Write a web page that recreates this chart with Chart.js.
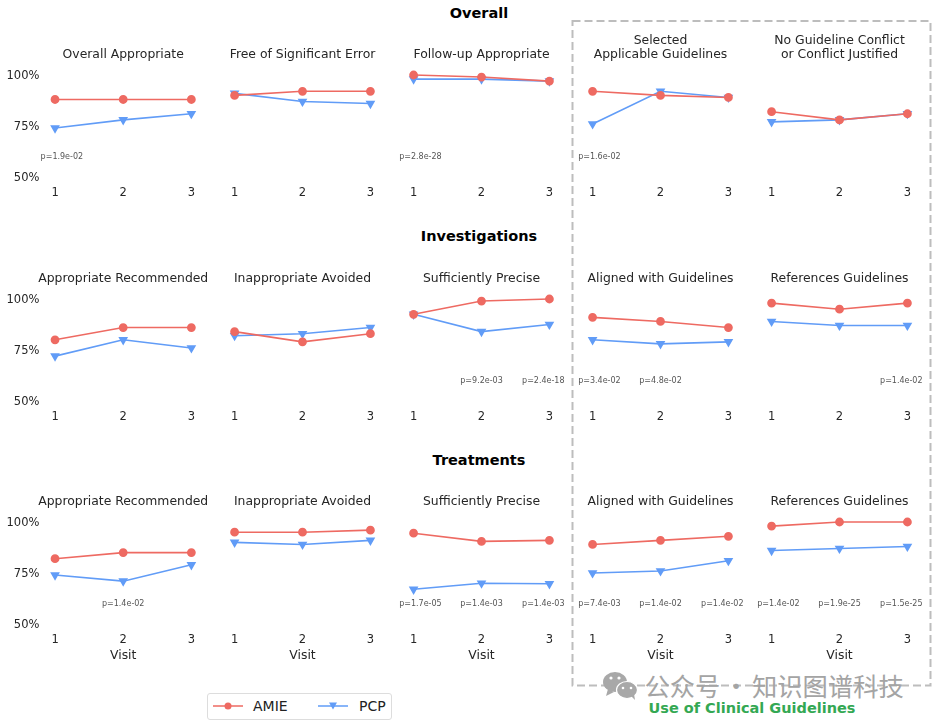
<!DOCTYPE html>
<html>
<head>
<meta charset="utf-8">
<script src="https://cdn.jsdelivr.net/npm/chart.js@4"></script>
<style>
  html, body { margin: 0; padding: 0; background: #fff; }
  body { width: 932px; height: 723px; position: relative; overflow: hidden; font-family: "DejaVu Sans", sans-serif; }
  canvas { position: absolute; }
  .section { position: absolute; left: 279px; width: 400px; text-align: center; font-weight: bold; font-size: 14.5px; color: #000; line-height: 18px; }
  #box { position: absolute; left: 0; top: 0; }
  #legend { position: absolute; left: 207px; top: 693px; width: 183px; height: 25px; border: 1px solid #ddd; border-radius: 3px; background: #fff; font-size: 14px; color: #222; }
  #legend svg { position: absolute; top: 5px; }
  #legend span { position: absolute; top: 3px; line-height: 18px; }
  #green { position: absolute; left: 602px; width: 300px; top: 699px; text-align: center; font-weight: bold; font-size: 14.5px; line-height: 18px; color: #34a853; }
  #mark { position: absolute; left: 644.5px; top: 669px; font-family: "Noto Sans CJK SC"; font-size: 25.3px; word-spacing: -2.5px; line-height: 32px; color: #a4a4a4; white-space: pre; }
</style>
</head>
<body>
<svg id="box" width="932" height="723">
  <rect x="572.5" y="21" width="358" height="664.5" fill="none" stroke="#bdbdbd" stroke-width="2" stroke-dasharray="8 4"/>
  <g fill="#a8a8a8">
    <ellipse cx="615" cy="682" rx="12" ry="10"/>
    <path d="M608 689 l-2 7 l8 -4 z"/>
  </g>
  <g fill="#a8a8a8" stroke="#fff" stroke-width="1.2">
    <ellipse cx="627" cy="690" rx="10.5" ry="8.5"/>
  </g>
  <path d="M631 696 l4 4 l-1 -6 z" fill="#a8a8a8"/>
  <g fill="#fff">
    <circle cx="611" cy="678" r="1.6"/><circle cx="619" cy="678" r="1.6"/>
    <circle cx="623" cy="688" r="1.3"/><circle cx="631" cy="688" r="1.3"/>
  </g>
</svg>
<div class="section" style="top:4px">Overall</div>
<div class="section" style="top:227px">Investigations</div>
<div class="section" style="top:451px">Treatments</div>
<div id="mark">公众号 · 知识图谱科技</div>
<div id="green">Use of Clinical Guidelines</div>
<div id="legend">
  <svg width="32" height="14" style="left:4px"><line x1="1" y1="7" x2="31" y2="7" stroke="#ee6a62" stroke-width="1.5"/><circle cx="16" cy="7" r="3.5" fill="#ee6a62"/></svg>
  <span style="left:45px">AMIE</span>
  <svg width="32" height="14" style="left:109px"><line x1="1" y1="7" x2="31" y2="7" stroke="#619cf7" stroke-width="1.5"/><path d="M12 3.5 h8 l-4 7 z" fill="#619cf7"/></svg>
  <span style="left:151px">PCP</span>
</div>
<script>
const visits = [1, 2, 3];
const yTicks = [50, 75, 100];

const titles = [
  ['Overall Appropriate'], ['Free of Significant Error'], ['Follow-up Appropriate'],
  ['Selected', 'Applicable Guidelines'], ['No Guideline Conflict', 'or Conflict Justified'],
  ['Appropriate Recommended'], ['Inappropriate Avoided'], ['Sufficiently Precise'],
  ['Aligned with Guidelines'], ['References Guidelines'],
  ['Appropriate Recommended'], ['Inappropriate Avoided'], ['Sufficiently Precise'],
  ['Aligned with Guidelines'], ['References Guidelines']
];

const amie = [
  [88, 88, 88], [90, 92, 92], [100, 99, 97], [92, 90, 89], [82, 78, 81],
  [80, 86, 86], [84, 79, 83], [92.5, 99, 100], [91, 89, 86], [98, 95, 98],
  [82, 85, 85], [95, 95, 96], [94.5, 90.5, 91], [89, 91, 93], [98, 100, 100]
];

const pcp = [
  [74, 78, 81], [91, 87, 86], [98, 98, 97], [76, 92, 89], [77, 78, 81],
  [72, 80, 76], [82, 83, 86], [92.5, 84, 87.5], [80, 78, 79], [89, 87, 87],
  [74, 71, 79], [90, 89, 91], [67, 70, 69.7], [75, 76, 81], [86, 87, 88]
];

// p-value per visit, null where nothing is printed
const pvals = [
  ['1.9e-02', null, null], [null, null, null], ['2.8e-28', null, null], ['1.6e-02', null, null], [null, null, null],
  [null, null, null], [null, null, null], [null, '9.2e-03', '2.4e-18'], ['3.4e-02', '4.8e-02', null], [null, null, '1.4e-02'],
  [null, '1.4e-02', null], [null, null, null], ['1.7e-05', '1.4e-03', '1.4e-03'], ['7.4e-03', '1.4e-02', '1.4e-02'], ['1.4e-02', '1.9e-25', '1.5e-25']
];

const red = '#ee6a62';
const blue = '#619cf7';
const ink = '#262626';
const font = '"DejaVu Sans", sans-serif';

const colLeft = [41.4, 220.6, 399.6, 578.6, 758.2];
const rowTop = [75, 298.7, 522.4];
const plotW = 163.2, plotH = 102, topH = 55, sidePad = 12;

// panel title above the plot, small p= labels at y=60 in data units
const panelText = {
  id: 'panelText',
  afterDatasetsDraw(chart, args, opts) {
    const { ctx, scales, chartArea } = chart;
    ctx.save();
    ctx.textAlign = 'center';
    ctx.textBaseline = 'middle';
    ctx.fillStyle = ink;
    ctx.font = '12.4px ' + font;
    const mid = (chartArea.left + chartArea.right) / 2;
    opts.title.forEach((line, k) => {
      ctx.fillText(line, mid, chartArea.top - 20.2 - (opts.title.length - 1 - k) * 14);
    });
    ctx.font = '8px ' + font;
    ctx.fillStyle = '#555';
    opts.values.forEach((p, i) => {
      if (!p) return;
      const nudge = [0.1, 0, -0.09][i];
      ctx.fillText('p=' + p, scales.x.getPixelForValue(visits[i] + nudge), scales.y.getPixelForValue(60));
    });
    ctx.restore();
  }
};

titles.forEach((title, i) => {
  const col = i % 5, row = Math.floor(i / 5);
  const yW = col === 0 ? colLeft[0] : 0;
  const left = col === 0 ? 0 : sidePad;
  const xH = row === 2 ? 39 : 24;
  const canvas = document.createElement('canvas');
  canvas.width = Math.round(plotW + yW + left + sidePad);
  canvas.height = topH + plotH + xH;
  canvas.style.left = (colLeft[col] - yW - left) + 'px';
  canvas.style.top = (rowTop[row] - topH) + 'px';
  document.body.appendChild(canvas);

  new Chart(canvas, {
    type: 'line',
    plugins: [panelText],
    data: {
      datasets: [
        { label: 'AMIE', data: visits.map((v, k) => ({ x: v, y: amie[i][k] })), borderColor: red, backgroundColor: red,
          borderWidth: 1.6, pointRadius: 3.6, pointStyle: 'circle', clip: false },
        { label: 'PCP', data: visits.map((v, k) => ({ x: v, y: pcp[i][k] })), borderColor: blue, backgroundColor: blue,
          borderWidth: 1.6, pointRadius: 4, pointStyle: 'triangle', pointRotation: 180, clip: false }
      ]
    },
    options: {
      responsive: false,
      animation: false,
      layout: { padding: { top: topH, left: left, right: sidePad, bottom: 0 } },
      plugins: {
        legend: { display: false },
        tooltip: { enabled: false },
        panelText: { title: title, values: pvals[i] }
      },
      scales: {
        x: {
          type: 'linear',
          min: 0.8,
          max: 3.2,
          grid: { display: false, drawTicks: false },
          border: { display: false },
          afterFit: s => { s.height = xH; s.paddingLeft = 0; s.paddingRight = 0; },
          title: { display: row === 2, text: 'Visit', color: ink, font: { family: font, size: 12.4 }, padding: 0 },
          ticks: { stepSize: 1, includeBounds: false, maxRotation: 0, color: ink, padding: 9, font: { family: font, size: 11.5 } }
        },
        y: {
          display: col === 0,
          min: yTicks[0],
          max: yTicks[2],
          grid: { display: false, drawTicks: false },
          border: { display: false },
          afterFit: s => { s.width = yW; s.paddingTop = 0; s.paddingBottom = 0; },
          afterBuildTicks: s => { s.ticks = yTicks.map(v => ({ value: v })); },
          ticks: { callback: v => v + '%', color: ink, padding: 2, labelOffset: 1.5, font: { family: font, size: 11.5 } }
        }
      }
    }
  });
});
</script>
</body>
</html>
